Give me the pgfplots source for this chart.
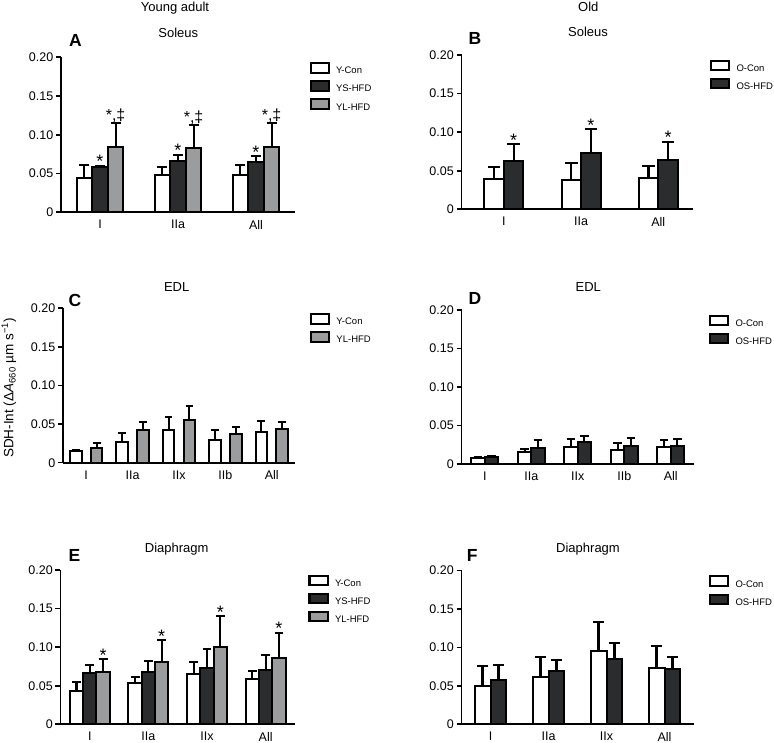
\documentclass[border=0pt]{standalone}
\usepackage{fontspec}
\setmainfont{Liberation Sans}
\usepackage{pgfplots}
\pgfplotsset{compat=1.18}
\definecolor{dk}{HTML}{2B2C2E}
\definecolor{gr}{HTML}{9B9C9E}
\pgfplotsset{
  panel/.style={
    scale only axis, ymin=0, ymax=0.2, clip=false, ybar,
    axis x line*=bottom, axis y line*=left,
    axis line style={line width=1.9bp, black},
    ytick={0,0.05,0.1,0.15,0.2}, yticklabels={0,0.05,0.10,0.15,0.20},
    tick align=outside, major tick length=5bp,
    ytick style={line width=1.6bp, black},
    xtick style={draw=none},
    tick label style={font=\fontsize{12.5bp}{14bp}\selectfont},
    yticklabel style={inner sep=2.5bp},
    xticklabel style={inner sep=2.7bp},
    legend style={draw=none, fill=none, inner sep=0pt, outer sep=0pt, anchor=north west,
      row sep=5bp, column sep=6.5bp, font=\fontsize{9.5bp}{11bp}\selectfont, nodes={inner sep=0pt}},
    legend cell align=left,
    /pgf/number format/assume math mode=true,
  },
  cap/.style={error bars/error mark options={line width=2bp, black, solid, rotate=90, mark size=#1}},
  legbox/.style={legend image code/.code={\draw[fill=#1, draw=black, line width=2bp] (0bp,-1.25bp) rectangle (18bp,8.05bp);}},
  eb/.style={error bars/.cd, y dir=plus, y explicit, error bar style={line width=2.1bp, black, solid}},
  bCon/.style={fill=white, draw=black, line width=2bp, legbox=white, bar shift=0pt, eb},
  bYS/.style={fill=dk, draw=black, line width=2bp, legbox=dk, bar shift=0pt, eb},
  bYL/.style={fill=gr, draw=black, line width=2bp, legbox=gr, bar shift=0pt, eb},
}
\tikzset{star/.style={font=\fontsize{18bp}{18bp}\selectfont, anchor=base, yshift=-1.8bp, inner sep=0pt},
  star2/.style={font=\fontsize{16bp}{16bp}\selectfont, anchor=base, yshift=2.5bp, inner sep=0pt}}
\begin{document}
\begin{tikzpicture}
\useasboundingbox (0,0) rectangle (774bp,743bp);
% ---------- A ----------
\begin{axis}[panel, at={(61bp,530.7bp)}, anchor=south west, width=234bp, height=155bp,
  xmin=-0.5, xmax=2.5, xtick={0,1,2}, xticklabels={I,IIa,All}, bar width=0.2, cap=5bp,
  legend style={at={(1,1)}, xshift=14.5bp, yshift=-4.95bp}]
\addplot[bCon] coordinates {(-0.2,0.0440) +- (0,0.0168) (0.8,0.0487) +- (0,0.0099) (1.8,0.0480) +- (0,0.0136)};
\addlegendentry{Y-Con}
\addplot[bYS] coordinates {(0,0.0580) +- (0,0.0020) (1,0.0664) +- (0,0.0076) (2,0.0650) +- (0,0.0070)};
\addlegendentry{YS-HFD}
\addplot[bYL] coordinates {(0.2,0.0845) +- (0,0.0310) (1.2,0.0830) +- (0,0.0290) (2.2,0.0845) +- (0,0.0310)};
\addlegendentry{YL-HFD}
\node[star] at (axis cs:0,0.0600) {*};
\node[star] at (axis cs:1,0.0740) {*};
\node[star] at (axis cs:2,0.0720) {*};
\node[star2] at (axis cs:0.2,0.1155) {*,‡};
\node[star2] at (axis cs:1.2,0.1120) {*,‡};
\node[star2] at (axis cs:2.2,0.1155) {*,‡};
\end{axis}
% ---------- B ----------
\begin{axis}[panel, at={(461.5bp,533.7bp)}, anchor=south west, width=231.5bp, height=154.3bp,
  xmin=-0.55, xmax=2.45, xtick={0,1,2}, xticklabels={I,IIa,All}, bar width=0.253, cap=6.3bp,
  legend style={at={(1,1)}, xshift=17bp, yshift=-4.95bp}]
\addplot[bCon] coordinates {(-0.1265,0.0389) +- (0,0.0164) (0.8735,0.0380) +- (0,0.0225) (1.8735,0.0410) +- (0,0.0156)};
\addlegendentry{O-Con}
\addplot[bYS] coordinates {(0.1265,0.0622) +- (0,0.0220) (1.1265,0.0734) +- (0,0.0303) (2.1265,0.0644) +- (0,0.0229)};
\addlegendentry{OS-HFD}
\node[star] at (axis cs:0.1265,0.0842) {*};
\node[star] at (axis cs:1.1265,0.1037) {*};
\node[star] at (axis cs:2.1265,0.0873) {*};
\end{axis}
% ---------- C ----------
\begin{axis}[panel, at={(63bp,280.3bp)}, anchor=south west, width=232bp, height=154.4bp,
  xmin=-0.5, xmax=4.5, xtick={0,1,2,3,4}, xticklabels={I,IIa,IIx,IIb,All}, bar width=0.25, cap=3.9bp,
  ylabel={SDH-Int (Δ\textit{A}\textsubscript{660} µm s\textsuperscript{−1})},
  ylabel style={at={(axis description cs:-0.233,0.484)}, anchor=center, font=\fontsize{13.5bp}{15bp}\selectfont},
  legend style={at={(1,1)}, xshift=15bp, yshift=-4.95bp}]
\addplot[bCon] coordinates {(-0.225,0.0151) +- (0,0.0013) (0.775,0.0272) +- (0,0.0112) (1.775,0.0423) +- (0,0.0164) (2.775,0.0298) +- (0,0.0121) (3.775,0.0393) +- (0,0.0147)};
\addlegendentry{Y-Con}
\addplot[bYL] coordinates {(0.225,0.0186) +- (0,0.0074) (1.225,0.0419) +- (0,0.0112) (2.225,0.0557) +- (0,0.0173) (3.225,0.0371) +- (0,0.0091) (4.225,0.0432) +- (0,0.0095)};
\addlegendentry{YL-HFD}
\end{axis}
% ---------- D ----------
\begin{axis}[panel, at={(461.5bp,279bp)}, anchor=south west, width=232.5bp, height=154bp,
  xmin=-0.5, xmax=4.5, xtick={0,1,2,3,4}, xticklabels={I,IIa,IIx,IIb,All}, bar width=0.287, cap=4.4bp,
  legend style={at={(1,1)}, xshift=15bp, yshift=-4.95bp}]
\addplot[bCon] coordinates {(-0.1435,0.0074) +- (0,0.0021) (0.8565,0.0156) +- (0,0.0039) (1.8565,0.0225) +- (0,0.0095) (2.8565,0.0186) +- (0,0.0091) (3.8565,0.0216) +- (0,0.0091)};
\addlegendentry{O-Con}
\addplot[bYS] coordinates {(0.1435,0.0091) +- (0,0.0013) (1.1435,0.0203) +- (0,0.0109) (2.1435,0.0281) +- (0,0.0079) (3.1435,0.0229) +- (0,0.0104) (4.1435,0.0238) +- (0,0.0091)};
\addlegendentry{OS-HFD}
\end{axis}
% ---------- E ----------
\begin{axis}[panel, at={(60.5bp,18.7bp)}, anchor=south west, width=234.5bp, height=154.3bp,
  xmin=-0.5, xmax=3.5, xtick={0,1,2,3}, xticklabels={I,IIa,IIx,All}, bar width=0.227, cap=4.4bp,
  legend style={at={(1,1)}, xshift=13.5bp, yshift=-4.95bp}]
\addplot[bCon] coordinates {(-0.227,0.0436) +- (0,0.0108) (0.773,0.0531) +- (0,0.0078) (1.773,0.0657) +- (0,0.0155) (2.773,0.0583) +- (0,0.0108)};
\addlegendentry{Y-Con}
\addplot[bYS] coordinates {(0,0.0661) +- (0,0.0112) (1,0.0678) +- (0,0.0142) (2,0.0726) +- (0,0.0254) (3,0.0708) +- (0,0.0186)};
\addlegendentry{YS-HFD}
\addplot[bYL] coordinates {(0.227,0.0674) +- (0,0.0168) (1.227,0.0812) +- (0,0.0277) (2.227,0.1006) +- (0,0.0394) (3.227,0.0864) +- (0,0.0320)};
\addlegendentry{YL-HFD}
\node[star] at (axis cs:0.227,0.0842) {*};
\node[star] at (axis cs:1.227,0.1089) {*};
\node[star] at (axis cs:2.227,0.1400) {*};
\node[star] at (axis cs:3.227,0.1184) {*};
\end{axis}
% ---------- F ----------
\begin{axis}[panel, at={(461.5bp,18.7bp)}, anchor=south west, width=232bp, height=153.8bp,
  xmin=-0.5, xmax=3.5, xtick={0,1,2,3}, xticklabels={I,IIa,IIx,All}, bar width=0.275, cap=5.3bp,
  legend style={at={(1,1)}, xshift=15.5bp, yshift=-4.95bp}]
\addplot[bCon] coordinates {(-0.1375,0.0497) +- (0,0.0259) (0.8625,0.0618) +- (0,0.0259) (1.8625,0.0955) +- (0,0.0375) (2.8625,0.0730) +- (0,0.0290)};
\addlegendentry{O-Con}
\addplot[bYS] coordinates {(0.1375,0.0575) +- (0,0.0198) (1.1375,0.0691) +- (0,0.0151) (2.1375,0.0847) +- (0,0.0216) (3.1375,0.0713) +- (0,0.0164)};
\addlegendentry{OS-HFD}
\end{axis}
% ---------- titles ----------
\begin{scope}[every node/.style={font=\fontsize{13bp}{15bp}\selectfont, anchor=base, inner sep=0pt}]
\node at (175bp,731bp) {Young adult};
\node at (588.3bp,731bp) {Old};
\node at (178.3bp,705.7bp) {Soleus};
\node at (588bp,706bp) {Soleus};
\node at (176.7bp,451.3bp) {EDL};
\node at (588.3bp,451.3bp) {EDL};
\node at (176.7bp,190.3bp) {Diaphragm};
\node at (588bp,190.3bp) {Diaphragm};
\end{scope}
\begin{scope}[every node/.style={font=\bfseries\fontsize{17.5bp}{19bp}\selectfont, anchor=base west, inner sep=0pt}]
\node at (69bp,696.3bp) {A};
\node at (468.3bp,698bp) {B};
\node at (68.3bp,436.3bp) {C};
\node at (468.3bp,438bp) {D};
\node at (68.3bp,181.3bp) {E};
\node at (466.7bp,181.3bp) {F};
\end{scope}
\end{tikzpicture}
\end{document}
